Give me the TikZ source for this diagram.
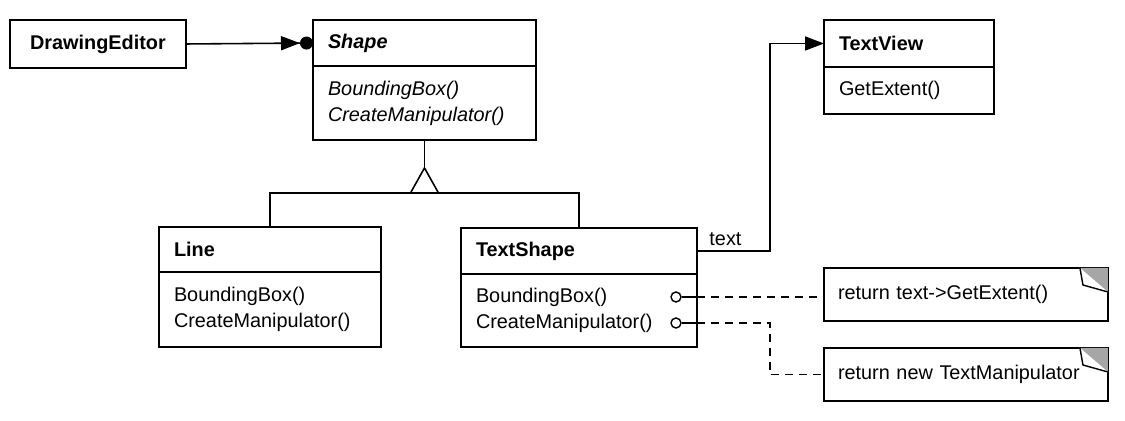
\documentclass[tikz,border=0pt]{standalone}
\usepackage{fontspec}
\setmainfont{Liberation Sans}
\usetikzlibrary{arrows.meta,positioning}
\newcommand\umlfont{\fontsize{11.3}{14.7}\selectfont}
\tikzset{
    box/.style={draw, line width=1.1pt, anchor=north west, outer sep=0pt,
        inner xsep=0.3cm, inner ysep=0pt, align=left, font=\umlfont},
    note/.style={box, line width=0.9pt, inner xsep=0.28cm},
    link/.style={line width=0.9pt},
    dep/.style={line width=0.8pt, dash pattern=on 0.16cm off 0.12cm},
    dot/.style={circle, draw, line width=0.8pt, fill=white, inner sep=0pt, minimum size=0.2cm},
}
\begin{document}
\begin{tikzpicture}[x=0.02cm, y=-0.02cm]
    \useasboundingbox (0,0) rectangle (1125,421);

    % Classes
    \node[box, align=center, text width=2.92cm, minimum height=0.96cm] (editor) at (10,20) {\textbf{DrawingEditor}};

    \node[box, text width=3.86cm, minimum height=0.92cm] (shape) at (313,20) {\textbf{\textit{Shape}}};
    \node[box, text width=3.86cm, minimum height=1.48cm] (shapeops) at (shape.south west)
        {\textit{BoundingBox()}\\\textit{CreateManipulator()}};

    \node[box, text width=3.84cm, minimum height=0.9cm] (linebox) at (159,227) {\textbf{Line}};
    \node[box, text width=3.84cm, minimum height=1.5cm] (lineops) at (linebox.south west)
        {BoundingBox()\\CreateManipulator()};

    \node[box, text width=4.12cm, minimum height=0.92cm] (tshape) at (461,228) {\textbf{TextShape}};
    \node[box, text width=4.12cm, minimum height=1.46cm] (tsops) at (tshape.south west)
        {BoundingBox()\\CreateManipulator()};

    \node[box, text width=2.8cm, minimum height=0.94cm] (tview) at (824,20) {\textbf{TextView}};
    \node[box, text width=2.8cm, minimum height=0.94cm] (tviewops) at (tview.south west) {GetExtent()};

    % Notes
    \node[note, text width=5.12cm, minimum height=1.06cm] (note1) at (824,268) {return text->GetExtent()};
    \node[note, text width=5.12cm, minimum height=1.06cm] (note2) at (824,348) {return new TextManipulator};
    \foreach \n in {note1,note2} {
        \fill[gray!70] ([xshift=-0.56cm]\n.north east) -- (\n.north east) -- ([yshift=-0.5cm]\n.north east) -- cycle;
        \draw[line width=0.8pt, fill=white] ([xshift=-0.56cm]\n.north east) -- ([xshift=-0.5cm,yshift=-0.34cm]\n.north east)
            -- ([yshift=-0.48cm]\n.north east);
    }

    % Editor to Shape
    \draw[link, -{Triangle[length=0.38cm,width=0.28cm]Circle[length=0.26cm]}] (editor.east) -- (shape.west);

    % Inheritance
    \coordinate (apex) at ([yshift=-0.56cm]shapeops.south);
    \coordinate (bar) at ([yshift=-0.5cm]apex);
    \draw[link] (shapeops.south) -- (apex);
    \draw[link, fill=white] (apex) -- ++(-14,25) -- ++(28,0) -- cycle;
    \draw[link] (linebox.north) |- (bar) -| (tshape.north);

    % TextShape to TextView
    \draw[link, -{Triangle[length=0.38cm,width=0.28cm]}] (tshape.east) -- ++(73,0)
        node[midway, above, xshift=-0.16cm, font=\umlfont, inner sep=0.1cm] {text} |- (tview.west);

    % Implementation notes
    \node[dot] (bbdot) at (676,297) {};
    \node[dot] (cmdot) at (676,323) {};
    \draw[link] (bbdot.east) -- (bbdot -| tsops.east);
    \draw[link] (cmdot.east) -- (cmdot -| tsops.east);
    \draw[dep] (bbdot -| tsops.east) -- (bbdot -| note1.west);
    \draw[dep] (cmdot -| tsops.east) -- ++(73,0) |- (note2.west);
\end{tikzpicture}
\end{document}
